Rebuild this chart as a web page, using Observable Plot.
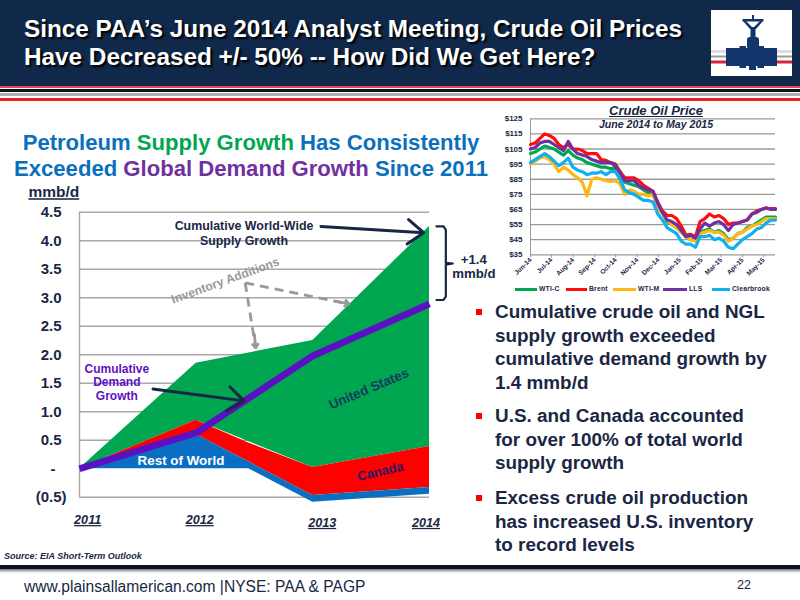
<!DOCTYPE html>
<html>
<head>
<meta charset="utf-8">
<script src="https://cdn.jsdelivr.net/npm/d3@7"></script>
<script src="https://cdn.jsdelivr.net/npm/@observablehq/plot@0.6"></script>
<style>
html,body{margin:0;padding:0;background:#fff}
#page{position:relative;width:800px;height:600px;overflow:hidden;font-family:"Liberation Sans",Arial,sans-serif;color:#1a2744}
.abs{position:absolute}
.band{position:absolute;left:0;width:800px}
.title{position:absolute;left:24px;color:#fff;font-weight:bold;font-size:24.3px;white-space:nowrap;text-shadow:2px 2px 2px #000}
.head{position:absolute;left:0;width:502px;text-align:center;font-weight:bold;font-size:22.1px;white-space:nowrap;color:#0a70bd}
.bullet{position:absolute;left:495px;font-weight:bold;font-size:18.9px;line-height:23.5px;white-space:pre;color:#1a2744}
.sq{position:absolute;left:476px;width:5.5px;height:5.5px;background:#f00}
svg{overflow:visible}
</style>
</head>
<body>
<div id="page">
  <div class="band" style="top:0;height:86px;background:#10284a"></div>
  <div class="band" style="top:86px;height:1.5px;background:#e8434a"></div>
  <div class="band" style="top:89px;height:2.5px;background:#0c1424"></div>
  <div class="band" style="top:93px;height:2.8px;background:#b0b0b0"></div>
  <div class="band" style="top:98px;height:3px;background:#ee1c25"></div>
  <div class="title" style="top:15px">Since PAA’s June 2014 Analyst Meeting, Crude Oil Prices</div>
  <div class="title" style="top:43px">Have Decreased +/- 50% -- How Did We Get Here?</div>
  <svg class="abs" style="left:711px;top:10px" width="81" height="66" viewBox="0 0 81 66">
    <rect width="81" height="66" fill="#fff"/>
    <rect y="40" width="81" height="3" fill="#dcdcdc"/>
    <rect y="45.5" width="81" height="2" fill="#999"/>
    <rect y="50.5" width="81" height="3" fill="#d8213a"/>
    <g fill="#12356b">
      <rect x="15" y="38" width="51" height="18"/>
      <rect x="28.5" y="36" width="6.5" height="3"/><rect x="46.5" y="36" width="6.5" height="3"/>
      <rect x="28.5" y="55" width="6.5" height="3"/><rect x="46.5" y="55" width="6.5" height="3"/>
      <rect x="38" y="56" width="7" height="4"/>
      <rect x="36" y="27" width="12" height="12" rx="3"/>
      <rect x="39.5" y="17" width="5" height="12"/>
      <rect x="41" y="5" width="2" height="6"/>
      <rect x="31.5" y="9" width="21" height="2.5"/>
      <path d="M32 11h3l6 6h2l6-6h3l-7 8h-6z"/>
    </g>
  </svg>

  <div class="head" style="top:130px"><span>Petroleum </span><span style="color:#00a651">Supply Growth </span><span>Has Consistently</span></div>
  <div class="head" style="top:156px"><span>Exceeded </span><span style="color:#7030a0">Global Demand Growth </span><span>Since 2011</span></div>

  <div id="main" class="abs" style="left:0;top:180px"></div>
  <div id="oil" class="abs" style="left:480px;top:100px"></div>

  <div class="abs" style="left:508px;width:296px;top:103px;text-align:center;font-weight:bold;font-style:italic;font-size:13px;text-decoration:underline">Crude Oil Price</div>
  <div class="abs" style="left:508px;width:296px;top:118px;text-align:center;font-weight:bold;font-style:italic;font-size:10.6px">June 2014 to May 2015</div>
  <div id="legend"></div>

  <div class="sq" style="top:309px"></div>
  <div class="bullet" style="top:300px">Cumulative crude oil and NGL
supply growth exceeded
cumulative demand growth by
1.4 mmb/d</div>
  <div class="sq" style="top:413px"></div>
  <div class="bullet" style="top:404px">U.S. and Canada accounted
for over 100% of total world
supply growth</div>
  <div class="sq" style="top:495px"></div>
  <div class="bullet" style="top:486px">Excess crude oil production
has increased U.S. inventory
to record levels</div>

  <div class="abs" style="left:4px;top:551px;font-weight:bold;font-style:italic;font-size:9px">Source: EIA Short-Term Outlook</div>

  <div class="band" style="top:565px;height:4px;background:#0c1424"></div>
  <div class="band" style="top:569px;height:4px;background:linear-gradient(#777,#fff)"></div>
  <div class="abs" style="left:24px;top:578px;font-size:15.6px;white-space:nowrap">www.plainsallamerican.com |NYSE: PAA &amp; PAGP</div>
  <div class="abs" style="left:737px;top:578px;font-size:12.5px">22</div>
</div>
<script>
// ---------- main chart data (mmb/d, cumulative from 2011) ----------
const years = [2011, 2012, 2013, 2014];
const worldSupplyTop = [0, 1.85, 2.25, 4.25];
const canadaTop = [0, 0.85, 0.02, 0.39];
const restYears = [2011, 2012, 2012.45, 2013, 2014];
const canadaTopAtRest = [0, 0.85, 0.45, 0.02, 0.39];
const restTop = [0, 0.6, 0.12, -0.47, -0.33];
const restBase = [0, 0, 0, -0.59, -0.45];
const demandGrowth = [0, 0.63, 1.98, 2.89];
const yTicksPos = [4.5, 4, 3.5, 3, 2.5, 2, 1.5, 1, 0.5];
const gridTicks = [4.5, 4, 3.5, 3, 2.5, 2, 1.5, 1, 0.5, -0.5];
const yearLabels = [
  {x: 2011.07, y: -0.90, t: "2011"},
  {x: 2012.03, y: -0.90, t: "2012"},
  {x: 2013.08, y: -0.95, t: "2013"},
  {x: 2013.97, y: -0.95, t: "2014"}
];
const solidArrows = [
  {x1: 2013.07, y1: 4.25, x2: 2013.95, y2: 4.14},
  {x1: 2011.63, y1: 1.40, x2: 2012.41, y2: 1.19}
];
const dashedLinks = [
  {x1: 2012.42, y1: 3.26, x2: 2013.31, y2: 2.89},
  {x1: 2012.42, y1: 3.26, x2: 2012.51, y2: 2.12}
];
const dashedHeads = [
  {x1: 2013.19, y1: 2.94, x2: 2013.31, y2: 2.89},
  {x1: 2012.50, y1: 2.35, x2: 2012.51, y2: 2.12}
];
const bracket = [
  [2014.06, 4.25], [2014.12, 4.25], [2014.14, 4.19], [2014.14, 3.61], [2014.20, 3.60],
  [2014.14, 3.58], [2014.14, 3.02], [2014.12, 2.96], [2014.06, 2.96]
];
const navyLabels = [
  {x: 2012.41, y: 4.25, t: "Cumulative World-Wide"},
  {x: 2012.41, y: 4.00, t: "Supply Growth"}
];
const demandLabels = [
  {x: 2011.32, y: 1.74, t: "Cumulative"},
  {x: 2011.32, y: 1.51, t: "Demand"},
  {x: 2011.32, y: 1.28, t: "Growth"}
];
const gapLabels = [
  {x: 2014.38, y: 3.67, t: "+1.4"},
  {x: 2014.38, y: 3.42, t: "mmb/d"}
];

const NAVY = "#1a2744", FONT = "Liberation Sans, Arial, sans-serif";
const zip = (xs, a, b) => xs.map((x, i) => ({x, y1: a[i], y2: b[i]}));
const txt = (rows, o) => Plot.text(rows, {x: "x", y: "y", text: "t", fontWeight: "bold", fontFamily: FONT, ...o});

const yLabelFmt = d => d === 0 ? "-" : d < 0 ? "(0.5)" : d.toFixed(1);
const main = Plot.plot({
  width: 500, height: 360,
  marginLeft: 79, marginRight: 71, marginTop: 31.7, marginBottom: 43.3,
  style: {background: "none", fontFamily: FONT, overflow: "visible"},
  x: {domain: [2011, 2014], axis: null},
  y: {domain: [-0.5, 4.5], axis: null},
  marks: [
    Plot.ruleY(gridTicks, {stroke: "#a8a8a8", strokeWidth: 1.4}),
    Plot.ruleX([2011], {y1: -0.5, y2: 4.5, stroke: "#a8a8a8", strokeWidth: 1.4}),
    Plot.axisY(yTicksPos, {anchor: "left", tickSize: 0, tickPadding: 18, tickFormat: yLabelFmt, fontSize: 15, fontWeight: "bold", fill: NAVY, label: null}),
    Plot.axisY([0], {anchor: "left", tickSize: 0, tickPadding: 24, tickFormat: yLabelFmt, fontSize: 15, fontWeight: "bold", fill: NAVY, label: null}),
    Plot.axisY([-0.5], {anchor: "left", tickSize: 0, tickPadding: 13, tickFormat: yLabelFmt, fontSize: 15, fontWeight: "bold", fill: NAVY, label: null}),
    Plot.areaY(zip(years, canadaTop, worldSupplyTop), {x: "x", y1: "y1", y2: "y2", fill: "#00a650"}),
    Plot.areaY(zip(restYears, restTop, canadaTopAtRest), {x: "x", y1: "y1", y2: "y2", fill: "#ff0000"}),
    Plot.areaY(zip(restYears, restBase, restTop), {x: "x", y1: "y1", y2: "y2", fill: "#0a6fc2"}),
    Plot.line(years.map((x, i) => ({x, y: demandGrowth[i]})), {x: "x", y: "y", stroke: "#5c10c4", strokeWidth: 6.8, strokeLinejoin: "miter", strokeLinecap: "butt"}),
    Plot.arrow(solidArrows, {x1: "x1", y1: "y1", x2: "x2", y2: "y2", bend: 0, stroke: NAVY, strokeWidth: 3, headLength: 10, headAngle: 75}),
    Plot.link(dashedLinks, {x1: "x1", y1: "y1", x2: "x2", y2: "y2", stroke: "#999", strokeWidth: 2.8, strokeDasharray: "9,6"}),
    Plot.arrow(dashedHeads, {x1: "x1", y1: "y1", x2: "x2", y2: "y2", bend: 0, stroke: "#999", strokeWidth: 2.8, headLength: 9, headAngle: 75}),
    Plot.line(bracket, {stroke: NAVY, strokeWidth: 2.2}),
    txt(navyLabels, {fill: NAVY, fontSize: 12.4}),
    txt(demandLabels, {fill: "#6010c4", fontSize: 12}),
    txt(gapLabels, {fill: NAVY, fontSize: 13.2}),
    txt([{x: 2012.25, y: 3.30, t: "Inventory Additions"}], {fill: "#999", fontSize: 12.2, rotate: -20}),
    txt([{x: 2013.48, y: 1.40, t: "United States"}], {fill: "#143a5e", fontSize: 13.4, rotate: -23}),
    txt([{x: 2013.58, y: -0.05, t: "Canada"}], {fill: "#2a1a60", fontSize: 13, rotate: -13}),
    txt([{x: 2011.87, y: 0.14, t: "Rest of World"}], {fill: "#fff", fontSize: 13.4}),
    txt(yearLabels, {fill: NAVY, fontSize: 12.6, fontStyle: "italic"}),
    txt([{x: 2010.78, y: 4.85, t: "mmb/d"}], {fill: NAVY, fontSize: 15.5})
  ]
});
d3.select(main).selectAll("text").filter(function(){ return /^(2011|2012|2013|2014)$/.test(this.textContent) || (this.textContent === "mmb/d" && this.parentNode.getAttribute("font-size") === "15.5"); }).style("text-decoration", "underline");
document.getElementById("main").append(main);

// ---------- crude oil data ($/bbl), one reading about every week ----------
const oilStart = new Date(Date.UTC(2014, 5, 1));
const oilDate = i => new Date(+oilStart + i * 6.75 * 864e5);
const wtiC = [102,103,105,107,106,105,103,101,104,101,
  99,98,96,95,94,93,93,92,93,90,
  83,82,81,80,78,76,75,68,63,57,
  55,53,50,47,45,45,50,51,52,50,
  51,49,45,46,49,50,53,54,56,58,
  60,60,60];
const brent = [108,109,112,115,114,112,108,106,108,105,
  105,104,102,102,102,98,97.5,96,95,90,
  86,86,86,84,81,79,77,70,64,61,
  61,59,54,48,48.5,47,57,59,62,60,
  61,59,55,56,56,57,58,62,64,65,
  66,65.5,65.5];
const wtiM = [95,97,99,100,98,95,90,93,91,88,
  86,83,74,85,86,85,84,83.5,84,82,
  75,78,77,75,75,74,75,66,62,58,
  55,53,50,47,45,44,49,50,51,50,
  50,48,44,46,49,50,52,54,55,57,
  59,59,59];
const lls = [105,106,109,110,110,108,106,104,110,105,
  102,101,100,98,97,96,96,96,94,89,
  84,84,84,81,79,78,77,69,63,58,
  57,55,51,47,48,46,52,56,54,56,
  57,55,51,55,56,57,58,62,63,65,
  66,65,65];
const clearbrook = [96,98,100,102,100,97,94,96,99,93,
  91,90,88,89,89,90,88,90,90,85,
  78,76,75,73,71,71,70,62,58,53,
  51,49,44,42,42,40,47,47,48,45,
  46,44,40,39,42,45,47,49,52,53,
  56,58,58];
const seriesNames = ["WTI-C", "Brent", "WTI-M", "LLS", "Clearbrook"];
const seriesColors = ["#00a651", "#ff0d0d", "#fdb813", "#7030a0", "#0fb0ee"];
const seriesValues = [wtiC, brent, wtiM, lls, clearbrook];
const monthTicks = d3.utcMonths(new Date(Date.UTC(2014, 5, 1)), new Date(Date.UTC(2015, 5, 1)));
const priceTicks = [35, 45, 55, 65, 75, 85, 95, 105, 115, 125];

const oil = Plot.plot({
  width: 320, height: 200,
  marginLeft: 50, marginRight: 25, marginTop: 18.3, marginBottom: 45.7,
  style: {background: "none", fontFamily: FONT, overflow: "visible"},
  x: {type: "utc", domain: [oilStart, oilDate(52)], axis: null},
  y: {domain: [35, 125], axis: null},
  marks: [
    Plot.ruleY(priceTicks, {stroke: "#9a9a9a", strokeWidth: 1.3}),
    Plot.ruleX([oilStart], {y1: 35, y2: 125, stroke: "#9a9a9a", strokeWidth: 1}),
    Plot.axisY(priceTicks, {anchor: "left", tickSize: 0, tickPadding: 8, tickFormat: d => "$" + d, fontSize: 8, fontWeight: "bold", fill: NAVY, label: null}),
    Plot.axisX(monthTicks, {anchor: "bottom", tickSize: 3, tickPadding: 1, tickRotate: -45, tickFormat: d3.utcFormat("%b-%y"), fontSize: 6.6, fontWeight: "bold", fill: NAVY, stroke: "#9a9a9a", label: null}),
    ...seriesValues.map((vals, s) => Plot.line(vals.map((v, i) => ({d: oilDate(i), v})), {x: "d", y: "v", stroke: seriesColors[s], strokeWidth: 3.2, strokeLinejoin: "round"}))
  ]
});
document.getElementById("oil").append(oil);

// ---------- legend under the oil chart ----------
const legendLeft = [515, 566, 613, 663, 712];
const legendLineW = [22, 21, 23, 24, 18];
const lg = document.getElementById("legend");
seriesNames.forEach((n, i) => {
  const ln = document.createElement("div");
  ln.className = "abs";
  ln.style.cssText = `left:${legendLeft[i]}px;top:288px;width:${legendLineW[i]}px;height:2.5px;background:${seriesColors[i]}`;
  const t = document.createElement("div");
  t.className = "abs";
  t.style.cssText = `left:${legendLeft[i] + legendLineW[i] + 2}px;top:285px;font-size:6.8px;line-height:8px;font-weight:bold;letter-spacing:.2px;white-space:nowrap`;
  t.textContent = n;
  lg.append(ln, t);
});
</script>
</body>
</html>
